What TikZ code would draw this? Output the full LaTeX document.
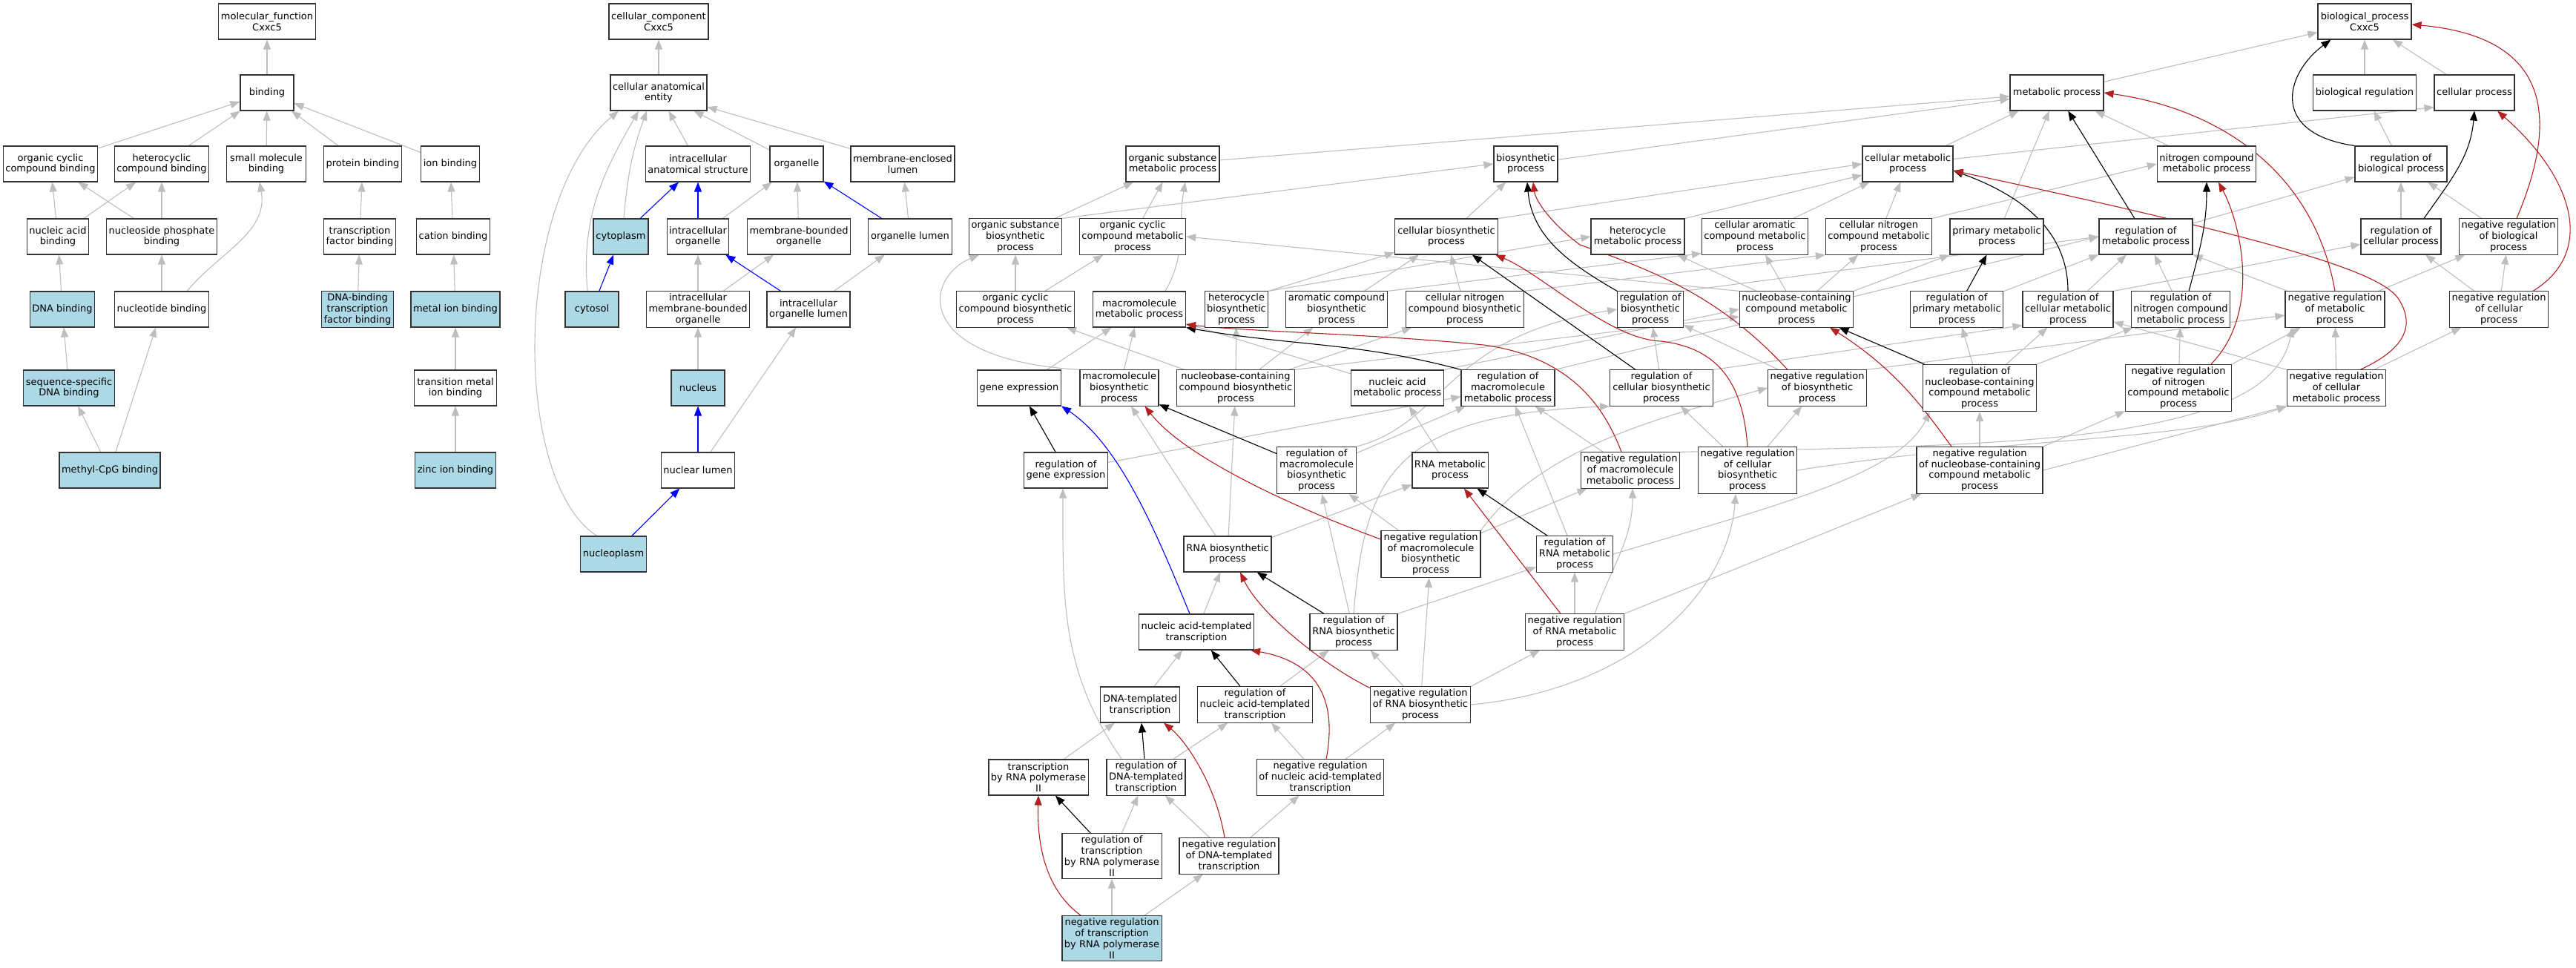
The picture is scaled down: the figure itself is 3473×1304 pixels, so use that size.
\documentclass[tikz,border=0pt]{standalone}
\usepackage{fontspec}
\setmainfont{DejaVu Sans}
\usetikzlibrary{arrows.meta,backgrounds}
\definecolor{isagrey}{RGB}{190,190,190}
\definecolor{negred}{RGB}{178,34,34}
\definecolor{hitblue}{RGB}{173,216,230}
\begin{document}
\begin{tikzpicture}[x=1pt,y=1pt,
  term/.style={draw=black!80,line width=1.1pt,fill=white,align=center,inner xsep=3pt,inner ysep=3pt,minimum height=48pt,font=\fontsize{13}{14.8}\selectfont},
  hit/.style={term,fill=hitblue},
  isa/.style={draw=isagrey,line width=1.1pt,-{Triangle[length=13pt,width=10pt]}},
  reg/.style={isa,draw=black},
  negreg/.style={isa,draw=negred},
  partof/.style={isa,draw=blue}]
\useasboundingbox (0,0) rectangle (3473,-1304);

\node[term,minimum width=130pt] (mf) at (360,-29) {molecular\_function\\Cxxc5};
\node[term,minimum width=72pt] (binding) at (360,-125) {binding};
\node[term,minimum width=127pt] (ocb) at (68,-221) {organic cyclic\\compound binding};
\node[term,minimum width=127pt] (hcb) at (218,-221) {heterocyclic\\compound binding};
\node[term,minimum width=107pt] (smb) at (359,-221) {small molecule\\binding};
\node[term,minimum width=104pt] (pb) at (489,-221) {protein binding};
\node[term,minimum width=79pt] (ib) at (607,-221) {ion binding};
\node[term,minimum width=83pt] (nab) at (78,-319) {nucleic acid\\binding};
\node[term,minimum width=147pt] (npb) at (218,-319) {nucleoside phosphate\\binding};
\node[term,minimum width=96pt] (tfb) at (485,-319) {transcription\\factor binding};
\node[term,minimum width=99pt] (cb) at (611,-319) {cation binding};
\node[hit,minimum width=86pt] (dnab) at (84,-417) {DNA binding};
\node[term,minimum width=127pt] (ntb) at (218,-417) {nucleotide binding};
\node[hit,minimum width=96pt] (dbtfb) at (482,-417) {DNA-binding\\transcription\\factor binding};
\node[hit,minimum width=120pt] (mib) at (614,-417) {metal ion binding};
\node[hit,minimum width=123pt] (ssdb) at (93,-523) {sequence-specific\\DNA binding};
\node[term,minimum width=111pt] (tmib) at (614,-523) {transition metal\\ion binding};
\node[hit,minimum width=136pt] (mcpg) at (148,-634) {methyl-CpG binding};
\node[hit,minimum width=107pt] (zib) at (614,-634) {zinc ion binding};

\node[term,minimum width=134pt] (cc) at (888,-29) {cellular\_component\\Cxxc5};
\node[term,minimum width=130pt] (cae) at (888,-125) {cellular anatomical\\entity};
\node[term,minimum width=141pt] (ias) at (941,-221) {intracellular\\anatomical structure};
\node[term,minimum width=72pt] (org) at (1074,-221) {organelle};
\node[term,minimum width=140pt] (mel) at (1217,-221) {membrane-enclosed\\lumen};
\node[hit,minimum width=74pt] (cyto) at (837,-319) {cytoplasm};
\node[term,minimum width=83pt] (io) at (941,-319) {intracellular\\organelle};
\node[term,minimum width=138pt] (mbo) at (1077,-319) {membrane-bounded\\organelle};
\node[term,minimum width=113pt] (ol) at (1227,-319) {organelle lumen};
\node[hit,minimum width=72pt] (cytosol) at (798,-417) {cytosol};
\node[term,minimum width=138pt] (imbo) at (941,-417) {intracellular\\membrane-bounded\\organelle};
\node[term,minimum width=112pt] (iol) at (1090,-417) {intracellular\\organelle lumen};
\node[hit,minimum width=72pt] (nucleus) at (941,-523) {nucleus};
\node[term,minimum width=99pt] (nl) at (941,-634) {nuclear lumen};
\node[hit,minimum width=89pt] (npl) at (827,-747) {nucleoplasm};

\node[term,minimum width=126pt] (bp) at (3188,-29) {biological\_process\\Cxxc5};
\node[term,minimum width=126pt] (metab) at (2773,-125) {metabolic process};
\node[term,minimum width=139pt] (bioreg) at (3188,-125) {biological regulation};
\node[term,minimum width=108pt] (cellproc) at (3336,-125) {cellular process};
\node[term,minimum width=126pt] (osmp) at (1581,-221) {organic substance\\metabolic process};
\node[term,minimum width=86pt] (biosyn) at (2057,-221) {biosynthetic\\process};
\node[term,minimum width=122pt] (cmp) at (2572,-221) {cellular metabolic\\process};
\node[term,minimum width=131pt] (ncmp) at (2975,-221) {nitrogen compound\\metabolic process};
\node[term,minimum width=124pt] (rbp) at (3237,-221) {regulation of\\biological process};
\node[term,minimum width=124pt] (osbp) at (1369,-319) {organic substance\\biosynthetic\\process};
\node[term,minimum width=142pt] (occmp) at (1527,-319) {organic cyclic\\compound metabolic\\process};
\node[term,minimum width=139pt] (cbp) at (1950,-319) {cellular biosynthetic\\process};
\node[term,minimum width=126pt] (hmp) at (2208,-319) {heterocycle\\metabolic process};
\node[term,minimum width=142pt] (camp) at (2366,-319) {cellular aromatic\\compound metabolic\\process};
\node[term,minimum width=142pt] (cnmp) at (2533,-319) {cellular nitrogen\\compound metabolic\\process};
\node[term,minimum width=126pt] (pmp) at (2692,-319) {primary metabolic\\process};
\node[term,minimum width=126pt] (rmp) at (2893,-319) {regulation of\\metabolic process};
\node[term,minimum width=108pt] (rcp) at (3237,-319) {regulation of\\cellular process};
\node[term,minimum width=133pt] (nrbp) at (3382,-319) {negative regulation\\of biological\\process};
\node[term,minimum width=158pt] (occbp) at (1369,-417) {organic cyclic\\compound biosynthetic\\process};
\node[term,minimum width=125pt] (mmp) at (1536,-417) {macromolecule\\metabolic process};
\node[term,minimum width=85pt] (hbp) at (1667,-417) {heterocycle\\biosynthetic\\process};
\node[term,minimum width=137pt] (acbp) at (1802,-417) {aromatic compound\\biosynthetic\\process};
\node[term,minimum width=159pt] (cncbp) at (1975,-417) {cellular nitrogen\\compound biosynthetic\\process};
\node[term,minimum width=88pt] (rbsp) at (2225,-417) {regulation of\\biosynthetic\\process};
\node[term,minimum width=153pt] (nccmp) at (2422,-417) {nucleobase-containing\\compound metabolic\\process};
\node[term,minimum width=125pt] (rpmp) at (2638,-417) {regulation of\\primary metabolic\\process};
\node[term,minimum width=122pt] (rcmp) at (2788,-417) {regulation of\\cellular metabolic\\process};
\node[term,minimum width=132pt] (rncmp) at (2940,-417) {regulation of\\nitrogen compound\\metabolic process};
\node[term,minimum width=134pt] (nrmp) at (3148,-417) {negative regulation\\of metabolic\\process};
\node[term,minimum width=133pt] (nrcp) at (3369,-417) {negative regulation\\of cellular\\process};
\node[term,minimum width=113pt] (geneexp) at (1374,-523) {gene expression};
\node[term,minimum width=106pt] (mbp) at (1509,-523) {macromolecule\\biosynthetic\\process};
\node[term,minimum width=158pt] (ncbp) at (1666,-523) {nucleobase-containing\\compound biosynthetic\\process};
\node[term,minimum width=125pt] (namp) at (1884,-523) {nucleic acid\\metabolic process};
\node[term,minimum width=126pt] (rmmp) at (2033,-523) {regulation of\\macromolecule\\metabolic process};
\node[term,minimum width=139pt] (rcbp) at (2240,-523) {regulation of\\cellular biosynthetic\\process};
\node[term,minimum width=133pt] (nrbsp) at (2450,-523) {negative regulation\\of biosynthetic\\process};
\node[term,minimum width=153pt] (rnccmp) at (2669,-523) {regulation of\\nucleobase-containing\\compound metabolic\\process};
\node[term,minimum width=142pt] (nrncmp) at (2937,-523) {negative regulation\\of nitrogen\\compound metabolic\\process};
\node[term,minimum width=133pt] (nrcmp) at (3150,-523) {negative regulation\\of cellular\\metabolic process};
\node[term,minimum width=112pt] (rge) at (1437,-634) {regulation of\\gene expression};
\node[term,minimum width=107pt] (rmbp) at (1775,-634) {regulation of\\macromolecule\\biosynthetic\\process};
\node[term,minimum width=102pt] (rnamp) at (1955,-634) {RNA metabolic\\process};
\node[term,minimum width=133pt] (nrmmp) at (2198,-634) {negative regulation\\of macromolecule\\metabolic process};
\node[term,minimum width=133pt] (nrcbp) at (2356,-634) {negative regulation\\of cellular\\biosynthetic\\process};
\node[term,minimum width=170pt] (nrnccmp) at (2669,-634) {negative regulation\\of nucleobase-containing\\compound metabolic\\process};
\node[term,minimum width=118pt] (rnabp) at (1655,-747) {RNA biosynthetic\\process};
\node[term,minimum width=134pt] (nrmbp) at (1929,-747) {negative regulation\\of macromolecule\\biosynthetic\\process};
\node[term,minimum width=103pt] (rrnamp) at (2123,-747) {regulation of\\RNA metabolic\\process};
\node[term,minimum width=155pt] (natt) at (1613,-852) {nucleic acid-templated\\transcription};
\node[term,minimum width=118pt] (rrnabp) at (1825,-852) {regulation of\\RNA biosynthetic\\process};
\node[term,minimum width=133pt] (nrrnamp) at (2123,-852) {negative regulation\\of RNA metabolic\\process};
\node[term,minimum width=107pt] (dtt) at (1537,-950) {DNA-templated\\transcription};
\node[term,minimum width=155pt] (rnatt) at (1692,-950) {regulation of\\nucleic acid-templated\\transcription};
\node[term,minimum width=135pt] (nrrnabp) at (1915,-950) {negative regulation\\of RNA biosynthetic\\process};
\node[term,minimum width=134pt] (trp2) at (1400,-1048) {transcription\\by RNA polymerase\\II};
\node[term,minimum width=106pt] (rdtt) at (1545,-1048) {regulation of\\DNA-templated\\transcription};
\node[term,minimum width=171pt] (nrnatt) at (1780,-1048) {negative regulation\\of nucleic acid-templated\\transcription};
\node[term,minimum width=133pt] (rtrp2) at (1499,-1154) {regulation of\\transcription\\by RNA polymerase\\II};
\node[term,minimum width=134pt] (nrdtt) at (1657,-1154) {negative regulation\\of DNA-templated\\transcription};
\node[hit,minimum width=133pt] (nrtrp2) at (1499,-1265) {negative regulation\\of transcription\\by RNA polymerase\\II};

\begin{pgfonlayer}{background}
\fill[white] (0,0) rectangle (3473,-1304);
\draw[isa] (binding) -- (mf);
\draw[isa] (ocb) -- (binding);
\draw[isa] (hcb) -- (binding);
\draw[isa] (smb) -- (binding);
\draw[isa] (pb) -- (binding);
\draw[isa] (ib) -- (binding);
\draw[isa] (nab) -- (ocb);
\draw[isa] (nab) -- (hcb);
\draw[isa] (npb) -- (ocb);
\draw[isa] (npb) -- (hcb);
\draw[isa] (tfb) -- (pb);
\draw[isa] (cb) -- (ib);
\draw[isa] (dnab) -- (nab);
\draw[isa] (ntb) -- (npb);
\draw[isa] ([xshift=-30pt]ntb.north east) to[out=50,in=-80] ([xshift=-9pt]smb.south);
\draw[isa] (dbtfb) -- (tfb);
\draw[isa] (mib) -- (cb);
\draw[isa] (ssdb) -- (dnab);
\draw[isa] (tmib) -- (mib);
\draw[isa] (mcpg) -- (ssdb);
\draw[isa] (mcpg) -- (ntb);
\draw[isa] (zib) -- (tmib);

\draw[isa] (cae) -- (cc);
\draw[isa] (ias) -- (cae);
\draw[isa] (org) -- (cae);
\draw[isa] (mel) -- (cae);
\draw[isa] ([xshift=4pt]cyto.north) to[out=85,in=-110] ([xshift=-16pt]cae.south);
\draw[isa] ([xshift=-6pt]cytosol.north) to[out=95,in=-120] ([xshift=-27pt]cae.south);
\draw[isa] ([xshift=23pt]npl.north west) .. controls (690,-650) and (690,-270) .. ([xshift=-54pt]cae.south);
\draw[partof] (cyto) -- (ias);
\draw[partof] (io) -- (ias);
\draw[isa] (io) -- (org);
\draw[isa] (mbo) -- (org);
\draw[partof] (ol) -- (org);
\draw[isa] (ol) -- (mel);
\draw[partof] (cytosol) -- (cyto);
\draw[isa] (imbo) -- (io);
\draw[isa] (imbo) -- (mbo);
\draw[partof] (iol) -- (io);
\draw[isa] (iol) -- (ol);
\draw[isa] (nucleus) -- (imbo);
\draw[partof] (nl) -- (nucleus);
\draw[isa] (nl) -- (iol);
\draw[partof] (npl) -- (nl);

\draw[isa] (metab) -- (bp);
\draw[isa] (bioreg) -- (bp);
\draw[isa] (cellproc) -- (bp);
\draw[isa] (osmp) -- (metab);
\draw[isa] (biosyn) -- (metab);
\draw[isa] (cmp) -- (metab);
\draw[isa] (pmp) -- (metab);
\draw[isa] (ncmp) -- (metab);
\draw[isa] (cmp) -- ([yshift=5pt]cellproc.south west);
\draw[isa] (rbp) -- (bioreg);
\draw[isa] (rmp) -- (rbp);
\draw[isa] (rcp) -- (rbp);
\draw[isa] (nrbp) -- (rbp);
\draw[isa] (rcmp.north east) -- (rcp);
\draw[isa] (nrcp) -- (rcp);
\draw[isa] (nrcp) -- (nrbp);
\draw[isa] (nrmp) -- (nrbp);
\draw[isa] (osbp) -- (osmp);
\draw[isa] (osbp.north east) -- (biosyn.west);
\draw[isa] (occmp) -- (osmp);
\draw[isa] ([xshift=-28pt]mmp.north east) to[out=60,in=-100] ([xshift=17pt]osmp.south);
\draw[isa] (cbp) -- (biosyn);
\draw[isa] (cbp.north east) -- (cmp.west);
\draw[isa] (hmp.north east) -- (cmp);
\draw[isa] (camp) -- (cmp);
\draw[isa] (cnmp) -- (cmp);
\draw[isa] (cnmp.north east) -- (ncmp.west);
\draw[isa] (rpmp) -- (rmp);
\draw[isa] (rcmp) -- (rmp);
\draw[isa] (rncmp) -- (rmp);
\draw[isa] (nrmp) -- (rmp);
\draw[isa] (rbsp.north east) -- (rmp.west);
\draw[isa] (rmmp.north east) -- (rmp.west);
\draw[isa] (occbp) -- (osbp);
\draw[isa] (occbp) -- (occmp);
\draw[isa] (hbp.north east) -- (hmp.west);
\draw[isa] (hbp.north east) -- (cbp);
\draw[isa] (acbp.north east) -- ([yshift=2pt]camp.south west);
\draw[isa] (acbp) -- (cbp);
\draw[isa] (cncbp) -- (cbp);
\draw[isa] (cncbp.north east) -- (cnmp.south west);
\draw[isa] (nccmp.north west) -- (occmp.east);
\draw[isa] (nccmp) -- (hmp);
\draw[isa] (nccmp) -- (camp);
\draw[isa] (nccmp) -- (cnmp);
\draw[isa] (nccmp.north east) -- (pmp.south west);
\draw[isa] (geneexp) -- (mmp);
\draw[isa] (mbp) -- (mmp);
\draw[isa] (mbp.north west) .. controls (1230,-485) and (1245,-375) .. ([xshift=14pt]osbp.south west);
\draw[isa] (ncbp) -- (occbp);
\draw[isa] (ncbp) -- (hbp);
\draw[isa] (ncbp) -- (acbp);
\draw[isa] (ncbp) -- (cncbp);
\draw[isa] (ncbp.north east) -- ([yshift=-10pt]nccmp.west);
\draw[isa] (namp) -- (mmp);
\draw[isa] (namp.north east) -- (nccmp.west);
\draw[isa] (rcbp) -- (rbsp);
\draw[isa] (rcbp.north east) -- ([yshift=3pt]rcmp.south west);
\draw[isa] (nrbsp) -- (rbsp);
\draw[isa] (nrbsp.north east) -- ([yshift=-8pt]nrmp.west);
\draw[isa] (rnccmp) -- (rpmp);
\draw[isa] (rnccmp) -- (rcmp);
\draw[isa] (rnccmp.north east) -- (rncmp);
\draw[isa] (nrncmp) -- (rncmp);
\draw[isa] (nrncmp.north east) -- (nrmp);
\draw[isa] (nrcmp.north west) -- (rcmp);
\draw[isa] (nrcmp) -- (nrmp);
\draw[isa] (nrcmp) -- (nrcp);
\draw[isa] (rge) -- (rmmp);
\draw[isa] (rmbp) -- (rmmp);
\draw[isa] (rmbp.north east) .. controls (1950,-570) and (1945,-455) .. (rbsp.west);
\draw[isa] (rnamp) -- (namp);
\draw[isa] (nrmmp) -- (rmmp);
\draw[isa] (nrmmp.north east) .. controls (2700,-600) and (3060,-600) .. ([xshift=10pt]nrmp.south west);
\draw[isa] (nrcbp) -- (rcbp);
\draw[isa] (nrcbp) -- (nrbsp);
\draw[isa] (nrcbp.east) .. controls (2700,-590) and (2950,-595) .. (nrcmp.south west);
\draw[isa] (nrnccmp) -- (rnccmp);
\draw[isa] (nrnccmp.north east) -- (nrncmp);
\draw[isa] (nrnccmp.east) -- (nrcmp.south west);
\draw[isa] (rnabp) -- (mbp);
\draw[isa] (rnabp) -- (ncbp);
\draw[isa] (rnabp) -- (rnamp);
\draw[isa] (nrmbp) -- (rmbp);
\draw[isa] (nrmbp) -- (nrmmp);
\draw[isa] (nrmbp.north east) .. controls (2080,-600) and (2250,-560) .. (nrbsp.west);
\draw[isa] (rrnamp) -- (rmmp);
\draw[isa] (rrnamp.east) .. controls (2400,-680) and (2560,-640) .. ([xshift=10pt]rnccmp.south west);
\draw[isa] (natt) -- (rnabp);
\draw[isa] (rrnabp) -- (rmbp);
\draw[isa] (rrnabp.north east) -- (rrnamp);
\draw[isa] (rrnabp.north) .. controls (1840,-640) and (1880,-560) .. (rcbp.south west);
\draw[isa] (nrrnamp) -- (rrnamp);
\draw[isa] ([xshift=27pt]nrrnamp.north) to[out=70,in=-90] ([xshift=3pt]nrmmp.south);
\draw[isa] (nrrnamp.north east) -- (nrnccmp);
\draw[isa] (dtt) -- (natt);
\draw[isa] (rnatt) -- (rrnabp);
\draw[isa] (nrrnabp) -- (rrnabp);
\draw[isa] (nrrnabp.north east) -- (nrrnamp);
\draw[isa] (nrrnabp) -- (nrmbp);
\draw[isa] (nrrnabp.east) .. controls (2200,-930) and (2330,-800) .. ([xshift=-16pt]nrcbp.south);
\draw[isa] (trp2) -- (dtt);
\draw[isa] (rdtt) -- (rnatt);
\draw[isa] ([xshift=21pt]rdtt.north west) to[out=125,in=-90] ([xshift=-4pt]rge.south);
\draw[isa] (nrnatt) -- (rnatt);
\draw[isa] (nrnatt) -- (nrrnabp);
\draw[isa] (rtrp2) -- (rdtt);
\draw[isa] (nrdtt) -- (rdtt);
\draw[isa] (nrdtt) -- (nrnatt);
\draw[isa] (nrtrp2) -- (rtrp2);
\draw[isa] (nrtrp2) -- (nrdtt);

\draw[reg] (rbp.north west) .. controls (3060,-180) and (3080,-100) .. ([xshift=18pt]bp.south west);
\draw[reg] ([xshift=31pt]rcp.north) to[out=55,in=-95] (cellproc.south);
\draw[reg] (rmp) -- (metab);
\draw[reg] (rcmp.north) to[out=90,in=-20] ([yshift=-9pt]cmp.east);
\draw[reg] ([xshift=11pt]rncmp.north) to[out=75,in=-90] (ncmp.south);
\draw[reg] (rpmp) -- (pmp);
\draw[reg] (rbsp.north west) to[out=150,in=-85] ([xshift=2pt]biosyn.south);
\draw[reg] (rcbp) -- (cbp);
\draw[reg] (rnccmp) -- (nccmp);
\draw[reg] (rmmp.north west) to[out=165,in=-10] (mmp.south east);
\draw[reg] (rge) -- (geneexp);
\draw[reg] (rmbp) -- (mbp);
\draw[reg] (rrnamp) -- (rnamp);
\draw[reg] (rrnabp) -- (rnabp);
\draw[reg] (rnatt) -- (natt);
\draw[reg] (rdtt) -- (dtt);
\draw[reg] (rtrp2) -- (trp2);

\draw[negreg] ([xshift=11pt]nrbp.north) .. controls (3450,-160) and (3440,-50) .. ([yshift=-4pt]bp.east);
\draw[negreg] ([xshift=46pt]nrcp.north) .. controls (3500,-340) and (3470,-240) .. ([xshift=31pt]cellproc.south);
\draw[negreg] (nrmp.north) to[out=100,in=-8] (metab.east);
\draw[negreg] ([xshift=32pt]nrcmp.north) .. controls (3255,-465) and (3250,-430) .. (3235,-405) .. controls (3215,-370) and (3100,-330) .. ([yshift=-9pt]cmp.east);
\draw[negreg] ([xshift=44pt]nrncmp.north) .. controls (3050,-420) and (3020,-300) .. ([xshift=16pt]ncmp.south);
\draw[negreg] ([xshift=-40pt]nrbsp.north) .. controls (2320,-400) and (2230,-365) .. (2130,-330) .. controls (2090,-300) and (2070,-270) .. ([xshift=10pt]biosyn.south);
\draw[negreg] (nrcbp.north) .. controls (2350,-520) and (2320,-470) .. (2240,-460) .. controls (2170,-458) and (2080,-370) .. ([xshift=66pt]cbp.south);
\draw[negreg] ([xshift=-38pt]nrnccmp.north) .. controls (2600,-560) and (2560,-500) .. ([xshift=45pt]nccmp.south);
\draw[negreg] ([xshift=-12pt]nrmmp.north) .. controls (2160,-540) and (2110,-480) .. (2000,-465) .. controls (1850,-450) and (1700,-448) .. ([yshift=4pt]mmp.south east);
\draw[negreg] ([yshift=20pt]nrmbp.west) .. controls (1760,-690) and (1600,-620) .. ([xshift=-19pt]mbp.south east);
\draw[negreg] (nrrnamp) -- (rnamp);
\draw[negreg] ([yshift=-2pt]nrrnabp.north west) .. controls (1790,-900) and (1700,-830) .. ([xshift=17pt]rnabp.south);
\draw[negreg] ([xshift=8pt]nrnatt.north) .. controls (1800,-960) and (1790,-895) .. ([xshift=-5pt]natt.south east);
\draw[negreg] ([xshift=-6pt]nrdtt.north) .. controls (1640,-1060) and (1600,-1000) .. ([xshift=32pt]dtt.south);
\draw[negreg] ([xshift=26pt]nrtrp2.north west) .. controls (1410,-1200) and (1398,-1140) .. (trp2.south);

\draw[partof] ([xshift=-9pt]natt.north) .. controls (1560,-720) and (1510,-600) .. (geneexp.south east);
\end{pgfonlayer}
\end{tikzpicture}
\end{document}
